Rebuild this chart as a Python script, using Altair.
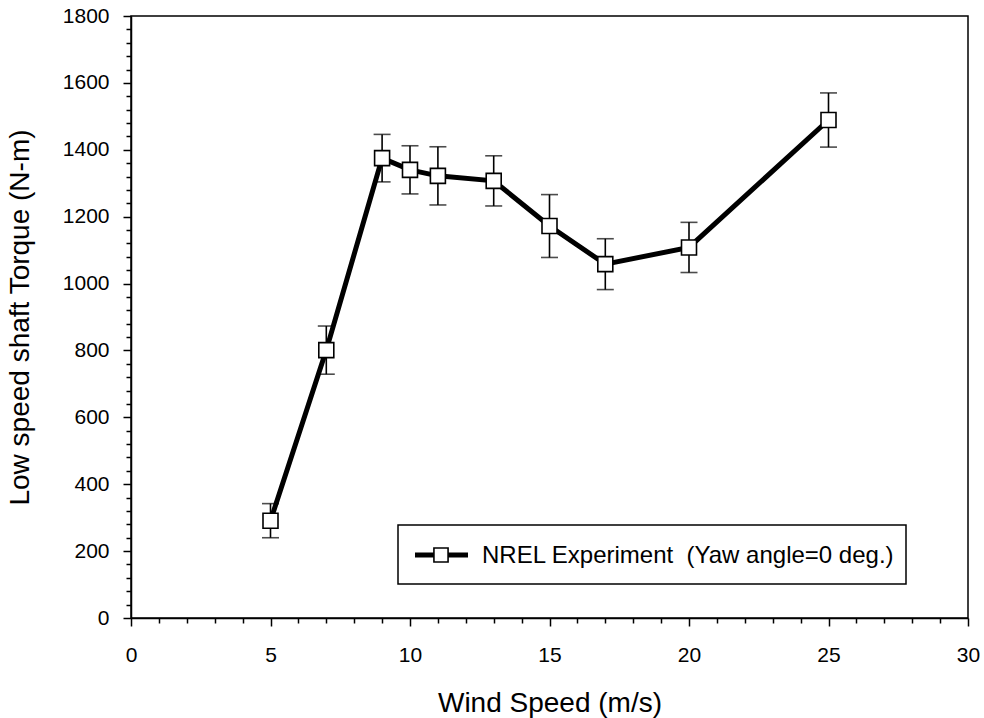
import altair as alt
import pandas as pd

# Data
wind_speed = [5, 7, 9, 10, 11, 13, 15, 17, 20, 25]
torque = [291, 801, 1375, 1340, 1322, 1307, 1172, 1058, 1108, 1489]
error = [51, 72, 71, 72, 87, 75, 94, 76, 75, 81]

x_ticks = list(range(0, 31, 1))
y_ticks = list(range(0, 1801, 40))
legend_label = ["NREL Experiment\u00a0 (Yaw angle=0 deg.)"]

df = pd.DataFrame({"ws": wind_speed, "tq": torque, "err": error})
df["lo"] = df["tq"] - df["err"]
df["hi"] = df["tq"] + df["err"]

FONT = "Liberation Sans"
W, H = 837, 602

xscale = alt.Scale(domain=[0, 30], nice=False, zero=False)
yscale = alt.Scale(domain=[0, 1800], nice=False, zero=False)

x_axis = alt.Axis(
    title="Wind Speed (m/s)",
    values=x_ticks,
    labelExpr="datum.value % 5 === 0 ? format(datum.value, 'd') : ''",
    tickSize={"condition": {"test": "datum.value % 5 === 0", "value": 8}, "value": 5},
    labelFontSize=21, titleFontSize=28, labelPadding=18, titlePadding=24,
    labelOverlap=False, labelFlush=False, grid=False,
)
y_axis = alt.Axis(
    title="Low speed shaft Torque (N-m)",
    values=y_ticks,
    labelExpr="datum.value % 200 === 0 ? format(datum.value, 'd') : ''",
    tickSize={"condition": {"test": "datum.value % 200 === 0", "value": 8}, "value": 5},
    labelFontSize=21, titleFontSize=28, labelPadding=14, titlePadding=28,
    labelOverlap=False, labelFlush=False, grid=False,
)

X = alt.X("ws:Q", scale=xscale, axis=x_axis)


def Y(field):
    return alt.Y(field, scale=yscale, axis=y_axis)


base = alt.Chart(df)

rules = base.mark_rule(color="black", strokeWidth=1.6).encode(
    x=X, y=Y("lo:Q"), y2="hi:Q",
)
caps_hi = base.mark_tick(color="black", orient="horizontal", size=17, thickness=1.6).encode(
    x=X, y=Y("hi:Q")
)
caps_lo = base.mark_tick(color="black", orient="horizontal", size=17, thickness=1.6).encode(
    x=X, y=Y("lo:Q")
)
line = base.mark_line(color="black", strokeWidth=5).encode(x=X, y=Y("tq:Q"))
points = base.mark_point(
    shape="square", size=225, filled=True, fill="white", stroke="black",
    strokeWidth=1.6, opacity=1,
).encode(x=X, y=Y("tq:Q"))

# Legend drawn as a framed box
leg = alt.Chart(pd.DataFrame({"label": legend_label}))
leg_box = leg.mark_rect(fill="white", stroke="black", strokeWidth=1.5).encode(
    x=alt.value(267), x2=alt.value(775), y=alt.value(509), y2=alt.value(568)
)
leg_line = leg.mark_rule(color="black", strokeWidth=5).encode(
    x=alt.value(284), x2=alt.value(337), y=alt.value(539)
)
leg_sym = leg.mark_point(
    shape="square", size=200, filled=True, fill="white", stroke="black",
    strokeWidth=1.6, opacity=1,
).encode(x=alt.value(310), y=alt.value(539))
leg_text = leg.mark_text(
    align="left", baseline="middle", font=FONT, fontSize=24, color="black"
).encode(x=alt.value(351), y=alt.value(540), text="label:N")

chart = alt.layer(
    rules, caps_hi, caps_lo, line, points, leg_box, leg_line, leg_sym, leg_text
).properties(
    width=W, height=H,
    autosize=alt.AutoSizeParams(type="none"),
    padding={"left": 131, "top": 16, "right": 16, "bottom": 100},
).configure(
    font=FONT,
).configure_view(
    stroke="black", strokeWidth=1.5,
).configure_axis(
    domainColor="black", domainWidth=1.5, tickColor="black", tickWidth=1.5,
    labelColor="black", titleColor="black", labelFont=FONT, titleFont=FONT,
    titleFontWeight="normal", labelOverlap=False,
)

chart.save("out.html", embed_options={"renderer": "svg", "actions": False})
